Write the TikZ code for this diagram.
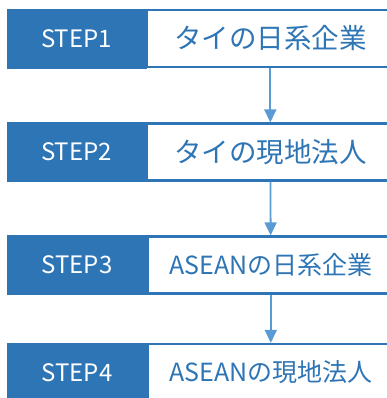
\documentclass[tikz,border=0pt]{standalone}
\usepackage{fontspec}
\setmainfont{Noto Sans CJK JP}
\usepackage{tikz}
\usetikzlibrary{arrows.meta, positioning}

\definecolor{stepblue}{HTML}{2E75B6}
\definecolor{arrowblue}{HTML}{5B9BD5}

\tikzset{
    stepbox/.style={fill=stepblue, draw=stepblue, text=white, minimum width=139pt, minimum height=59pt, inner sep=0pt, font=\fontsize{24}{28}\selectfont},
    titlebox/.style={fill=white, draw=stepblue, line width=2.2pt, text=stepblue, minimum width=246pt, minimum height=57pt, inner sep=0pt, font=\fontsize{27.5}{32}\selectfont},
    flow/.style={draw=arrowblue, line width=1.8pt, -{Triangle[width=12pt, length=13pt]}}
}

\begin{document}
\begin{tikzpicture}[x=1pt, y=1pt]
    \useasboundingbox (0,0) rectangle (387,398);

    % Step labels
    \node[stepbox] (step1) at (76.5, 359.5) {STEP1};
    \node[stepbox] (step2) at (76.5, 246) {STEP2};
    \node[stepbox] (step3) at (77, 133) {STEP3};
    \node[stepbox] (step4) at (77, 25.5) {STEP4};

    % Titles
    \node[titlebox, anchor=west] (title1) at (step1.east) {タイの日系企業};
    \node[titlebox, anchor=west] (title2) at (step2.east) {タイの現地法人};
    \node[titlebox, anchor=west, font=\fontsize{25}{29}\selectfont] (title3) at (step3.east) {ASEANの日系企業};
    \node[titlebox, anchor=west, font=\fontsize{25}{29}\selectfont] (title4) at (step4.east) {ASEANの現地法人};

    % Arrows
    \draw[flow] (title1) -- (title2);
    \draw[flow] (title2) -- (title3);
    \draw[flow] (title3) -- (title4);
\end{tikzpicture}
\end{document}
